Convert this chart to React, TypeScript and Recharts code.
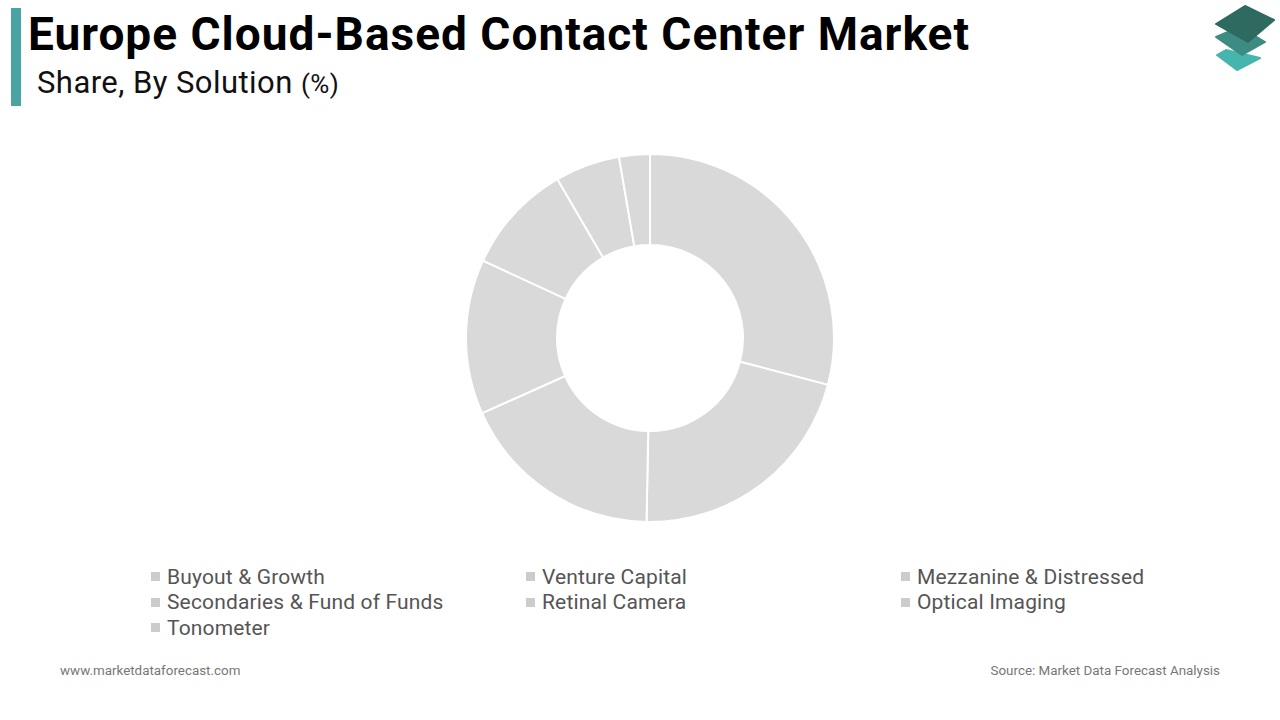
import React from "react";
import { PieChart, Pie, Cell } from "recharts";

const SEGMENTS = [
  "Buyout & Growth",
  "Venture Capital",
  "Mezzanine & Distressed",
  "Secondaries & Fund of Funds",
  "Retinal Camera",
  "Optical Imaging",
  "Tonometer",
];
const SHARES = [29.1, 21.2, 18.0, 13.6, 9.7, 5.7, 2.7];

const SLICE_FILL = "#d9d9d9";
const FONT = "Roboto, 'Noto Sans', Arial, sans-serif";

const chartData = SEGMENTS.map((name, i) => ({ name, value: SHARES[i] }));

// stacked-layers brand mark, top right
function Logo() {
  return (
    <svg width={1280} height={80} style={{ position: "absolute", left: 0, top: 0 }}>
      <polygon points="1217,55 1226,50 1260,58 1237,70" fill="#45b5ae" strokeLinejoin="round" stroke="#45b5ae" strokeWidth={2} />
      <polygon points="1216,37 1240,27 1265,42 1242,55" fill="#3d8c83" strokeLinejoin="round" stroke="#3d8c83" strokeWidth={2} />
      <polygon points="1216,24 1245,6 1274,20 1248,42" fill="#2e6a60" strokeLinejoin="round" stroke="#2e6a60" strokeWidth={2} />
    </svg>
  );
}

export default function App() {
  const legendCols = [151, 526, 901];
  return (
    <div
      style={{
        position: "absolute",
        left: 0,
        top: 0,
        width: 1280,
        height: 720,
        background: "#fff",
        fontFamily: FONT,
        overflow: "hidden",
      }}
    >
      <div style={{ position: "absolute", left: 11, top: 8, width: 10, height: 98, background: "#4aa3a3" }} />
      <div
        style={{
          position: "absolute",
          left: 28,
          top: 5,
          fontSize: 46,
          fontWeight: 700,
          letterSpacing: 1,
          color: "#000",
          whiteSpace: "nowrap",
          lineHeight: "58px",
        }}
      >
        Europe Cloud-Based Contact Center Market
      </div>
      <div
        style={{
          position: "absolute",
          left: 37,
          top: 63,
          fontSize: 31,
          letterSpacing: 0.45,
          color: "#111",
          whiteSpace: "nowrap",
          lineHeight: "40px",
        }}
      >
        Share, By Solution <span style={{ fontSize: 26 }}>(%)</span>
      </div>
      <Logo />

      <div style={{ position: "absolute", left: 0, top: 0 }}>
        <PieChart width={1280} height={560} margin={{ top: 0, right: 0, bottom: 0, left: 0 }}>
          <Pie
            data={chartData}
            dataKey="value"
            nameKey="name"
            cx={650}
            cy={338}
            innerRadius={93}
            outerRadius={184}
            startAngle={90}
            endAngle={-270}
            stroke="#ffffff"
            strokeWidth={2}
            isAnimationActive={false}
          >
            {chartData.map((d) => (
              <Cell key={d.name} fill={SLICE_FILL} />
            ))}
          </Pie>
        </PieChart>
      </div>

      {SEGMENTS.map((name, i) => {
        const col = i % 3;
        const row = Math.floor(i / 3);
        return (
          <div
            key={name}
            style={{
              position: "absolute",
              left: legendCols[col],
              top: 563.5 + row * 25.5,
              height: 26,
              display: "flex",
              alignItems: "center",
              whiteSpace: "nowrap",
              fontSize: 21,
              letterSpacing: 0.15,
              color: "#555",
            }}
          >
            <span style={{ display: "inline-block", width: 9, height: 9, background: "#cccccc", marginRight: 7 }} />
            {name}
          </div>
        );
      })}

      <div style={{ position: "absolute", left: 60, top: 663, fontSize: 13.4, color: "#777" }}>
        www.marketdataforecast.com
      </div>
      <div style={{ position: "absolute", right: 60, top: 663, fontSize: 13.4, color: "#777" }}>
        Source: Market Data Forecast Analysis
      </div>
    </div>
  );
}
